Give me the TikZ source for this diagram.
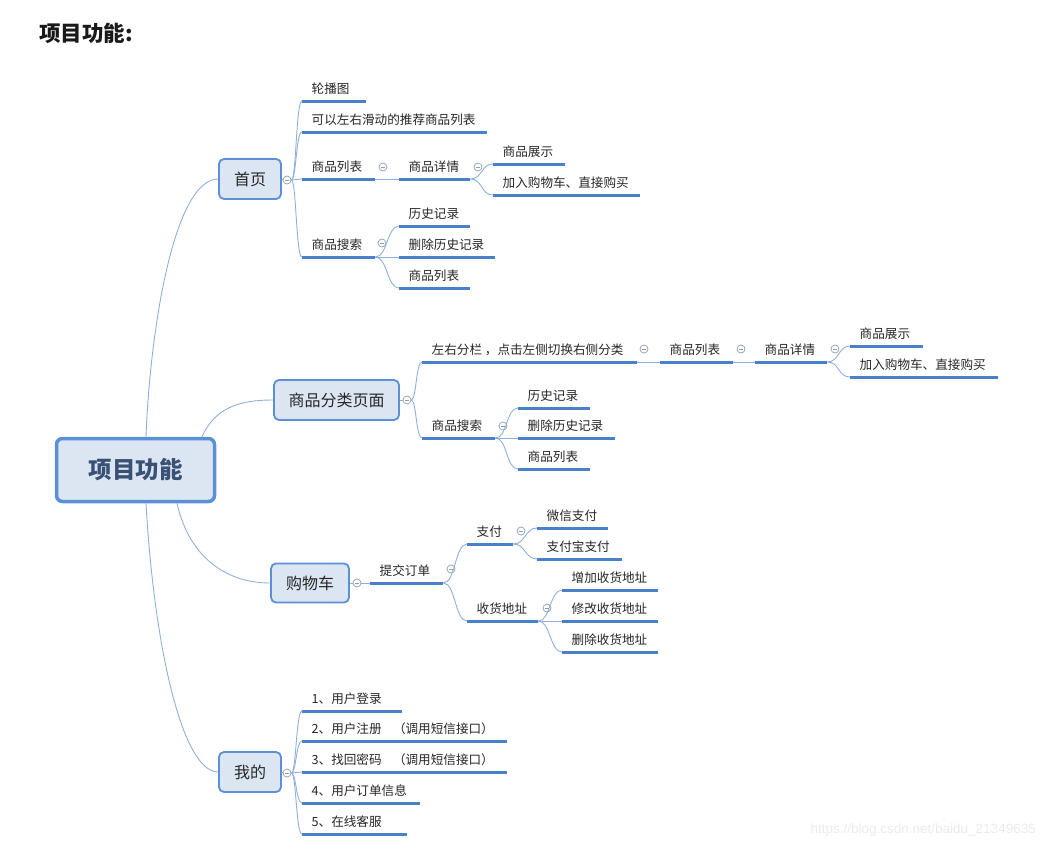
\documentclass[tikz,border=0pt]{standalone}
\usepackage{fontspec}
\setmainfont{Noto Sans CJK SC}
\newfontfamily\wmfont{Liberation Sans}
\definecolor{boxfill}{HTML}{DCE6F2}
\definecolor{boxline}{HTML}{5B8FD6}
\definecolor{ulcol}{HTML}{4A7FC9}
\definecolor{conncol}{HTML}{90B0DC}
\definecolor{circcol}{HTML}{8E9CB0}
\definecolor{txt}{HTML}{262626}
\definecolor{roottxt}{HTML}{3A5075}
\newcommand\lbtext[2]{\makebox[#1pt][l]{\hspace{9.5pt}#2}}
\begin{document}
\begin{tikzpicture}[x=1pt,y=-1pt,
  rootbox/.style={draw=boxline, line width=3.5pt, fill=boxfill, rounded corners=6pt,
    minimum width=158pt, minimum height=63pt, inner sep=0pt, text=roottxt,
    font=\fontsize{23.5}{26}\selectfont\bfseries},
  brbox/.style={draw=boxline, line width=1.8pt, fill=boxfill, rounded corners=5pt,
    minimum height=40pt, inner sep=0pt, text=txt, font=\fontsize{16}{18}\selectfont},
  leaf/.style={anchor=south west, inner sep=0pt, text depth=7pt, text height=12pt,
    text=txt, font=\fontsize{12.6}{14}\selectfont},
  uline/.style={draw=ulcol, line width=3pt},
  conn/.style={draw=conncol, line width=0.9pt},
  mycirc/.style={circle, draw=circcol, line width=0.7pt, minimum size=8pt, inner sep=0pt,
    fill=white, path picture={\draw[circcol, line width=0.6pt]
      ([xshift=-2.2pt]path picture bounding box.center) -- ([xshift=2.2pt]path picture bounding box.center);}}
]
\useasboundingbox (0,0) rectangle (1044,849);

% title
\node[anchor=west, inner sep=0pt, text=black!90, font=\fontsize{21.5}{24}\selectfont\bfseries] (title) at (39,33) {项目功能:};

% root and branches
\node[rootbox] (root) at (135.5,470) {项目功能};
\node[brbox, minimum width=62pt] (home) at (250,179) {首页};
\node[brbox, minimum width=125pt] (cat) at (336.5,400) {商品分类页面};
\node[brbox, minimum width=78pt, minimum height=39pt] (cart) at (310,583) {购物车};
\node[brbox, minimum width=62pt] (mine) at (250,772) {我的};

\node[mycirc] (homec) at (287,180) {};
\node[mycirc] (catc) at (407,400) {};
\node[mycirc] (cartc) at (357,583) {};
\node[mycirc] (minec) at (287,773) {};

% root connectors
\draw[conn] ([xshift=10.5pt]root.north) .. controls +(4,-107) and +(-44,0) .. (home.west);
\draw[conn] ([xshift=66.5pt]root.north) .. controls +(13,-29) and +(-34,0) .. (cat.west);
\draw[conn] ([xshift=41.5pt]root.south) .. controls +(13,57) and +(-41,0) .. (cart.west);
\draw[conn] ([xshift=10.5pt]root.south) .. controls +(8,142) and +(-36,0) .. (mine.west);

\draw[conn] (home.east) -- (homec.west);
\draw[conn] (cat.east) -- (catc.west);
\draw[conn] (cart.east) -- (cartc.west);
\draw[conn] (mine.east) -- (minec.west);

% ---- 首页 ----
\node[leaf] (s1) at (302,101) {\lbtext{64}{轮播图}};
\node[leaf] (s2) at (302,132) {\lbtext{185}{可以左右滑动的推荐商品列表}};
\node[leaf] (s3) at (302,179) {\lbtext{73}{商品列表}};
\node[leaf] (s4) at (399,179) {\lbtext{71}{商品详情}};
\node[leaf] (s5) at (493,164) {\lbtext{72}{商品展示}};
\node[leaf] (s6) at (493,195) {\lbtext{147}{加入购物车、直接购买}};
\node[leaf] (s7) at (302,257) {\lbtext{73}{商品搜索}};
\node[leaf] (s8) at (399,226) {\lbtext{71}{历史记录}};
\node[leaf] (s9) at (399,257) {\lbtext{96}{删除历史记录}};
\node[leaf] (s10) at (399,288) {\lbtext{71}{商品列表}};
\node[mycirc] (s3c) at (383,167) {};
\node[mycirc] (s4c) at (478,167) {};
\node[mycirc] (s7c) at (382,243) {};
\foreach \n in {s1,s2,s3,s4,s5,s6,s7,s8,s9,s10}
  \draw[uline] (\n.south west) -- (\n.south east);
\foreach \n in {s1,s2,s3,s7}
  \draw[conn] (homec.east) .. controls +(5,0) and +(-6,0) .. (\n.south west);
\draw[conn] (s3.south east) -- (s4.south west);
\foreach \n in {s5,s6}
  \draw[conn] (s4.south east) .. controls +(12,0) and +(-12,0) .. (\n.south west);
\foreach \n in {s8,s9,s10}
  \draw[conn] (s7.south east) .. controls +(12,0) and +(-12,0) .. (\n.south west);

% ---- 商品分类页面 ----
\node[leaf] (c1) at (422,362) {\lbtext{215}{左右分栏 ，点击左侧切换右侧分类}};
\node[leaf] (c2) at (660,362) {\lbtext{73}{商品列表}};
\node[leaf] (c3) at (755,362) {\lbtext{72}{商品详情}};
\node[leaf] (c4) at (850,346) {\lbtext{73}{商品展示}};
\node[leaf] (c5) at (850,377) {\lbtext{148}{加入购物车、直接购买}};
\node[leaf] (c6) at (422,438) {\lbtext{73}{商品搜索}};
\node[leaf] (c7) at (518,408) {\lbtext{72}{历史记录}};
\node[leaf] (c8) at (518,438) {\lbtext{97}{删除历史记录}};
\node[leaf] (c9) at (518,469) {\lbtext{72}{商品列表}};
\node[mycirc] (c1c) at (644,349) {};
\node[mycirc] (c2c) at (741,349) {};
\node[mycirc] (c3c) at (835,349) {};
\node[mycirc] (c6c) at (503,426) {};
\foreach \n in {c1,c2,c3,c4,c5,c6,c7,c8,c9}
  \draw[uline] (\n.south west) -- (\n.south east);
\foreach \n in {c1,c6}
  \draw[conn] (catc.east) .. controls +(5,0) and +(-6,0) .. (\n.south west);
\draw[conn] (c1.south east) -- (c2.south west);
\draw[conn] (c2.south east) -- (c3.south west);
\foreach \n in {c4,c5}
  \draw[conn] (c3.south east) .. controls +(12,0) and +(-12,0) .. (\n.south west);
\foreach \n in {c7,c8,c9}
  \draw[conn] (c6.south east) .. controls +(12,0) and +(-12,0) .. (\n.south west);

% ---- 购物车 ----
\node[leaf] (d1) at (370,583) {\lbtext{73}{提交订单}};
\node[leaf] (d2) at (467,544) {\lbtext{46}{支付}};
\node[leaf] (d3) at (537,528) {\lbtext{71}{微信支付}};
\node[leaf] (d4) at (537,559) {\lbtext{85}{支付宝支付}};
\node[leaf] (d5) at (467,621) {\lbtext{71}{收货地址}};
\node[leaf] (d6) at (562,590) {\lbtext{96}{增加收货地址}};
\node[leaf] (d7) at (562,621) {\lbtext{96}{修改收货地址}};
\node[leaf] (d8) at (562,652) {\lbtext{96}{删除收货地址}};
\node[mycirc] (d1c) at (451,569) {};
\node[mycirc] (d2c) at (521,531) {};
\node[mycirc] (d5c) at (547,608) {};
\foreach \n in {d1,d2,d3,d4,d5,d6,d7,d8}
  \draw[uline] (\n.south west) -- (\n.south east);
\draw[conn] (cartc.east) -- (d1.south west);
\foreach \n in {d2,d5}
  \draw[conn] (d1.south east) .. controls +(12,0) and +(-12,0) .. (\n.south west);
\foreach \n in {d3,d4}
  \draw[conn] (d2.south east) .. controls +(12,0) and +(-12,0) .. (\n.south west);
\foreach \n in {d6,d7,d8}
  \draw[conn] (d5.south east) .. controls +(12,0) and +(-12,0) .. (\n.south west);

% ---- 我的 ----
\node[leaf] (m1) at (302,711) {\lbtext{100}{1、用户登录}};
\node[leaf] (m2) at (302,741) {\lbtext{205}{2、用户注册\hspace{0.9em}（调用短信接口）}};
\node[leaf] (m3) at (302,772) {\lbtext{205}{3、找回密码\hspace{0.9em}（调用短信接口）}};
\node[leaf] (m4) at (302,803) {\lbtext{118}{4、用户订单信息}};
\node[leaf] (m5) at (302,834) {\lbtext{105}{5、在线客服}};
\foreach \n in {m1,m2,m3,m4,m5}
  \draw[uline] (\n.south west) -- (\n.south east);
\foreach \n in {m1,m2,m3,m4,m5}
  \draw[conn] (minec.east) .. controls +(5,0) and +(-6,0) .. (\n.south west);

% watermark
\node[anchor=east, inner sep=0pt, text=black!8, font=\wmfont\fontsize{13.5}{16}\selectfont] (wm) at (1036,830) {https://blog.csdn.net/baidu\_21349635};
\end{tikzpicture}
\end{document}
